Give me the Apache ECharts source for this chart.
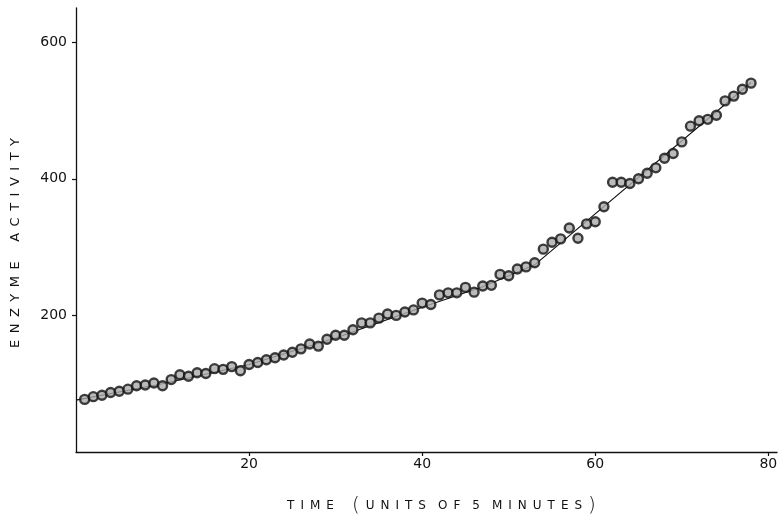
<!DOCTYPE html>
<html>
<head>
<meta charset="utf-8">
<script src="https://cdn.jsdelivr.net/npm/echarts@6/dist/echarts.min.js"></script>
<style>html,body{margin:0;padding:0;background:#fff}#c{width:779px;height:518px}</style>
</head>
<body>
<div id="c"></div>
<script>
// Time (units of 5 minutes) for each observation
const timePoints = [1,2,3,4,5,6,7,8,9,10,11,12,13,14,15,16,17,18,19,20,21,22,23,24,25,26,27,28,29,30,31,32,33,34,35,36,37,38,39,40,41,42,43,44,45,46,47,48,49,50,51,52,53,54,55,56,57,58,59,60,61,62,63,64,65,66,67,68,69,70,71,72,73,74,75,76,77,78];
// Enzyme activity observations
const activity = [77,81,83,87,89,92,97,98,101,97,106,113,111,116,115,122,121,125,119,128,131,135,138,142,146,151,158,155,165,171,171,179,189,189,196,202,200,205,208,218,216,230,233,233,241,234,243,244,260,258,268,271,277,297,307,312,328,313,334,337,359,395,395,393,400,408,416,430,437,454,477,485,487,493,514,521,531,540];
// Fitted line through the data
const fitTime = [0,10,20,30,40,47,53,78];
const fitActivity = [76,100,128,167,212,242,274,541];
// Tick labels
const xTicks = [20,40,60,80];
const yTicks = [200,400,600];

const chart = echarts.init(document.getElementById('c'), null, {renderer:'canvas'});
const F = 'DejaVu Sans';
const g = '\u2002';
const sp = (s) => s.split(' ').map(w => w.split('').join(g)).join(g + g + g);
chart.setOption({
  animation: false,
  backgroundColor: '#fff',
  grid: {left: 76, right: 2, top: 8, bottom: 66, outerBoundsMode: 'none', containLabel: false},
  xAxis: {
    type: 'value', min: 0, max: 81,
    axisLine: {lineStyle: {color: '#111', width: 1.3}},
    axisTick: {customValues: xTicks, length: 4, lineStyle: {color: '#111', width: 1.2}},
    axisLabel: {customValues: xTicks, margin: 5, color: '#111', fontFamily: F, fontSize: 14},
    splitLine: {show: false},
    name: '{a|' + g + g + g + g + g + sp('TIME') + '}' + g + g + g + '{p|(}{a|' + g + sp('UNITS') + g + g + sp('OF') + g + g + '5' + g + g + sp('MINUTES') + g + '}{p|)}',
    nameLocation: 'middle', nameGap: 44,
    nameTextStyle: {
      color: '#111', fontFamily: F, fontSize: 12,
      rich: {
        a: {fontFamily: F, fontSize: 12, color: '#111'},
        p: {fontFamily: F, fontSize: 20, color: '#111', fontWeight: 'lighter'}
      }
    }
  },
  yAxis: {
    type: 'value', min: 0, max: 650,
    axisLine: {show: true, lineStyle: {color: '#111', width: 1.3}},
    axisTick: {show: true, customValues: yTicks, length: 4, lineStyle: {color: '#111', width: 1.2}},
    axisLabel: {customValues: yTicks, margin: 9, color: '#111', fontFamily: F, fontSize: 14},
    splitLine: {show: false},
    name: sp('ENZYME ACTIVITY') + g + g + g + g,
    nameLocation: 'middle', nameGap: 54,
    nameTextStyle: {color: '#111', fontFamily: F, fontSize: 13}
  },
  series: [
    {
      type: 'line', data: fitTime.map((t, i) => [t, fitActivity[i]]),
      showSymbol: false, symbol: 'none',
      lineStyle: {color: '#111', width: 1.1}, z: 1
    },
    {
      type: 'scatter', data: timePoints.map((t, i) => [t, activity[i]]),
      symbol: 'circle', symbolSize: 9,
      itemStyle: {color: '#aaa', borderColor: '#111', borderWidth: 2.4}, z: 2
    }
  ]
});
</script>
</body>
</html>
